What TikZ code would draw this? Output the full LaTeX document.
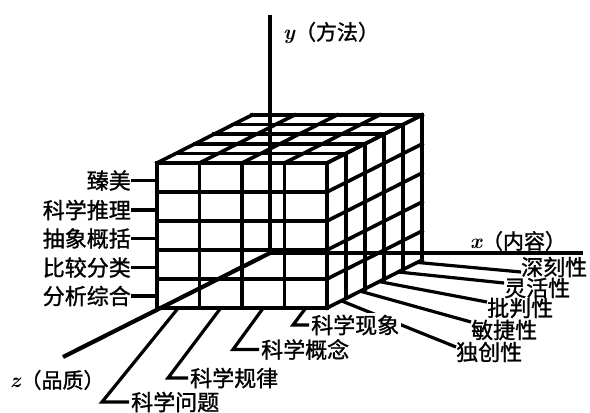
\documentclass[tikz,border=0pt]{standalone}
\usepackage{fontspec}
\newfontfamily\cjk{Noto Sans CJK SC}[FakeBold=1.2]
\newcommand{\var}[1]{{\normalfont\bfseries\itshape #1}}
\begin{document}
\begin{tikzpicture}[x=1pt,y=-1pt,
  grid/.style={line width=3.6pt, line cap=rect},
  axis/.style={line width=4.2pt},
  leader/.style={line width=3.2pt},
  lab/.style={font=\cjk\fontsize{22}{26}\selectfont, inner sep=0pt},
  alab/.style={font=\cjk\fontsize{21}{25}\selectfont, inner sep=0pt},
  clab/.style={lab, fill=white, inner sep=2pt}]
\useasboundingbox (0,0) rectangle (590,413);
\fill[white] (0,0) rectangle (590,413);

% ---- cube: front face
\foreach \i in {0,...,4} \draw[grid] (157+42.5*\i,163) -- (157+42.5*\i,308);
\foreach \j in {0,...,5} \draw[grid] (157,163+29*\j) -- (327,163+29*\j);
% top face
\foreach \i in {0,...,4} \draw[grid] (157+42.5*\i,163) -- ++(95,-48);
\foreach \k in {0,...,5} \draw[grid] (157+19*\k,163-9.6*\k) -- ++(170,0);
% right face
\foreach \k in {0,...,5} \draw[grid] (327+19*\k,163-9.6*\k) -- ++(0,145);
\foreach \j in {0,...,5} \draw[grid] (327,163+29*\j) -- ++(95,-48);

% ---- axes
\coordinate (O) at (270,253);
\coordinate (ytop) at (270,15);
\coordinate (xend) at (583,253);
\coordinate (zend) at (63,357);
\draw[axis] (ytop) -- (O) -- (xend);
\draw[axis] (O) -- (zend);
\node[alab, anchor=west] (ylab) at (283,33) {\var{y}（方法）};
\node[alab, anchor=west] (xlab) at (470,241) {\var{x}（内容）};
\node[alab, anchor=west] (zlab) at (10,380) {\var{z}（品质）};

% ---- method labels (left)
\foreach \t/\yy [count=\n] in {臻美/180.5, 科学推理/210, 抽象概括/238.5, 比较分类/267.5, 分析综合/296} {
  \coordinate (m\n) at (157,\yy);
  \node[lab, anchor=east] (ml\n) at (131,\yy) {\t};
  \draw[leader] (ml\n.east) -- (m\n);
}

% ---- quality labels (right)
\coordinate (q1) at (417,262.4);
\coordinate (q2) at (398.3,272);
\coordinate (q3) at (379.3,281.6);
\coordinate (q4) at (360.3,291.2);
\coordinate (q5) at (341.3,300.8);
\node[lab, anchor=west] (ql1) at (521,267) {深刻性};
\node[lab, anchor=west] (ql2) at (504,288) {灵活性};
\node[lab, anchor=west] (ql3) at (487,308) {批判性};
\node[lab, anchor=west] (ql4) at (471,330) {敏捷性};
\node[lab, anchor=west] (ql5) at (456,352) {独创性};
\draw[leader] (q1) -- ([yshift=-5pt]ql1.west);
\draw[leader] (q2) -- ([yshift=5pt]ql2.west);
\draw[leader] (q3) -- ([yshift=6pt]ql3.west);
\draw[leader] (q4) -- ([yshift=8pt]ql4.west);
\draw[leader] (q5) -- ([yshift=5pt]ql5.west);

% ---- content labels (bottom)
\coordinate (c1) at (305.75,308);
\coordinate (c2) at (263.25,308);
\coordinate (c3) at (220.75,308);
\coordinate (c4) at (178.25,308);
\coordinate (k1) at (293,325);
\coordinate (k2) at (233,349.5);
\coordinate (k3) at (168,378);
\coordinate (k4) at (102,402);
\node[clab, anchor=west] (cl1) at (309,325) {科学现象};
\node[clab, anchor=west] (cl2) at (259,349.5) {科学概念};
\node[clab, anchor=west] (cl3) at (188,378) {科学规律};
\node[clab, anchor=west] (cl4) at (129,402) {科学问题};
\draw[leader] (c1) -- (k1) -- (cl1.west);
\draw[leader] (c2) -- (k2) -- (cl2.west);
\draw[leader] (c3) -- (k3) -- (cl3.west);
\draw[leader] (c4) -- (k4) -- (cl4.west);
\end{tikzpicture}
\end{document}
